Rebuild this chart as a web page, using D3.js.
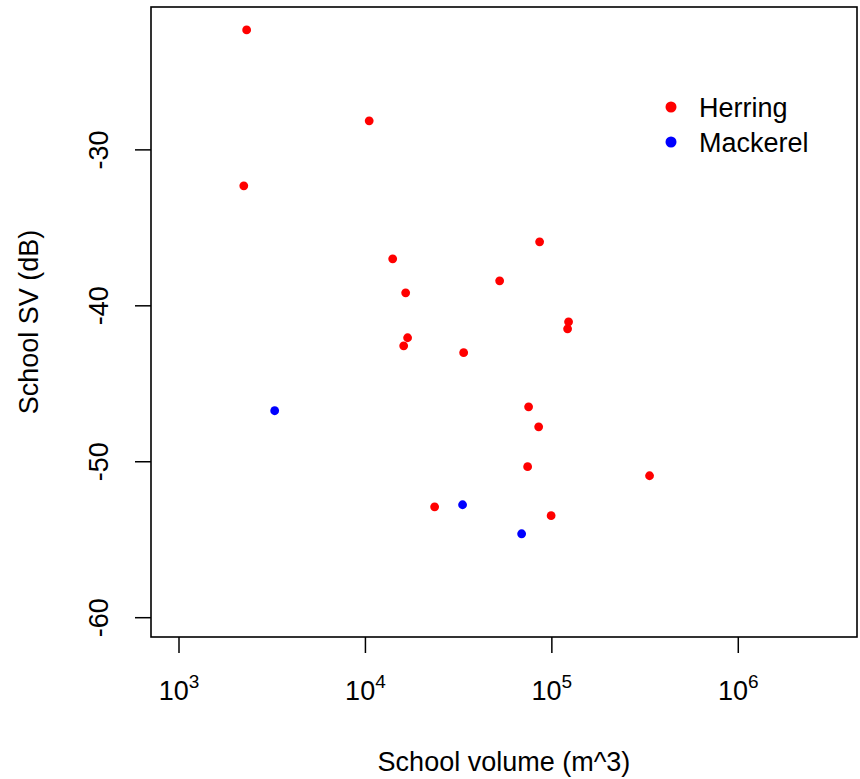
<!DOCTYPE html>
<html>
<head>
<meta charset="utf-8">
<script src="https://cdn.jsdelivr.net/npm/d3@7"></script>
<style>
  body { margin: 0; background: #fff; }
  svg { display: block; font-family: "Liberation Sans", Arial, sans-serif; }
</style>
</head>
<body>
<div id="chart"></div>
<script>
// school volume (m^3) and school Sv (dB)
const herringVolume = [2320, 10540, 2240, 86500, 14090, 52800, 16540, 123700, 122200,
    16940, 16140, 33850, 75500, 85500, 74600, 336300, 23650, 99700];
const herringSv = [-22.34, -28.17, -32.34, -35.93, -37.02, -38.43, -39.20, -41.06, -41.51,
    -42.08, -42.60, -43.04, -46.51, -47.79, -50.35, -50.93, -52.92, -53.49];
const mackerelVolume = [3280, 33400, 69270];
const mackerelSv = [-46.76, -52.79, -54.65];

const xTicks = [1e3, 1e4, 1e5, 1e6];
const yTicks = [-30, -40, -50, -60];
const speciesNames = ["Herring", "Mackerel"];
const speciesColors = ["#ff0000", "#0000ff"];

const width = 860, height = 779;
const box = {left: 151, right: 857, top: 7, bottom: 637};

const svg = d3.select("#chart")
    .append("svg")
    .attr("width", width)
    .attr("height", height);

const x = d3.scaleLog()
    .domain([712, 4.36e6])
    .range([box.left, box.right]);

const y = d3.scaleLinear()
    .domain([-61.27, -20.87])
    .range([box.bottom, box.top]);

// axes
const xAxis = svg.append("g")
    .attr("transform", `translate(0,${box.bottom})`)
    .call(d3.axisBottom(x).tickValues(xTicks).tickSize(16));
xAxis.select(".domain").remove();
xAxis.selectAll(".tick line").attr("stroke", "#000").attr("stroke-width", 1.5);
xAxis.selectAll(".tick text")
    .attr("y", 63)
    .attr("dy", null)
    .attr("fill", "#000")
    .style("font-size", "27px")
    .text(null)
    .each(function (d) {
        const t = d3.select(this);
        t.append("tspan").text("10");
        t.append("tspan")
            .attr("dy", -12)
            .style("font-size", "19px")
            .text(Math.round(Math.log10(d)));
    });

// plain hyphen for negatives, like the original
const yAxis = svg.append("g")
    .attr("transform", `translate(${box.left},0)`)
    .call(d3.axisLeft(y).tickValues(yTicks).tickSize(16).tickFormat(d => String(d)));
yAxis.select(".domain").remove();
yAxis.selectAll(".tick line").attr("stroke", "#000").attr("stroke-width", 1.5);
yAxis.selectAll(".tick text")
    .attr("x", null)
    .attr("dy", null)
    .attr("transform", "translate(-43,0) rotate(-90)")
    .attr("text-anchor", "middle")
    .attr("fill", "#000")
    .style("font-size", "27px");

// plot box
svg.append("rect")
    .attr("x", box.left)
    .attr("y", box.top)
    .attr("width", box.right - box.left)
    .attr("height", box.bottom - box.top)
    .attr("fill", "none")
    .attr("stroke", "#000")
    .attr("stroke-width", 1.6);

// points
function drawSeries(vols, svs, color) {
    svg.append("g")
        .selectAll("circle")
        .data(vols)
        .enter()
        .append("circle")
        .attr("cx", d => x(d))
        .attr("cy", (d, i) => y(svs[i]))
        .attr("r", 4.4)
        .attr("fill", color);
}
drawSeries(herringVolume, herringSv, speciesColors[0]);
drawSeries(mackerelVolume, mackerelSv, speciesColors[1]);

// legend
const legend = svg.append("g")
    .selectAll("g")
    .data(speciesNames)
    .enter()
    .append("g")
    .attr("transform", (d, i) => `translate(671,${107 + i * 35})`);
legend.append("circle")
    .attr("r", 5.5)
    .attr("fill", (d, i) => speciesColors[i]);
legend.append("text")
    .attr("x", 28)
    .attr("y", 10)
    .style("font-size", "27px")
    .attr("fill", "#000")
    .text(d => d);

// axis titles
svg.append("text")
    .attr("x", (box.left + box.right) / 2)
    .attr("y", 771)
    .attr("text-anchor", "middle")
    .style("font-size", "27px")
    .text("School volume (m^3)");

svg.append("text")
    .attr("transform", `translate(38,${(box.top + box.bottom) / 2}) rotate(-90)`)
    .attr("text-anchor", "middle")
    .style("font-size", "27px")
    .text("School SV (dB)");
</script>
</body>
</html>
